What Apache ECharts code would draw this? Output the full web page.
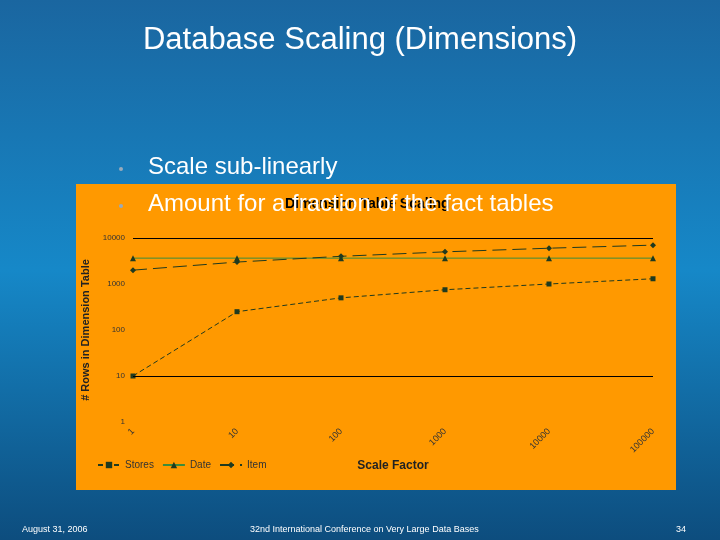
<!DOCTYPE html>
<html><head><meta charset="utf-8">
<script src="https://cdn.jsdelivr.net/npm/echarts@6/dist/echarts.min.js"></script>
<style>html,body{margin:0;padding:0}#c{width:720px;height:540px}</style>
</head><body><div id="c"></div>
<script>
const categories = ['1','10','100','1000','10000','100000'];
const stores = [10, 250, 500, 750, 1000, 1300];
const dateRows = [3650, 3650, 3650, 3650, 3650, 3650];
const item = [2000, 3000, 4000, 5000, 6000, 7000];
const chart = echarts.init(document.getElementById('c'));
const dark = '#1f3a1f';
const F = 'Liberation Sans';
chart.setOption({
  animation:false,
  textStyle:{fontFamily:F},
  graphic:[
    {type:'rect',z:-10,shape:{x:0,y:0,width:720,height:540},style:{fill:new echarts.graphic.LinearGradient(0,0,0,1,[{offset:0,color:'#1a66a0'},{offset:0.5,color:'#1688c8'},{offset:1,color:'#0d4d7e'}])}},
    {type:'rect',z:-5,shape:{x:76,y:184,width:600,height:306},style:{fill:'#ff9900'}},
    {type:'text',z:10,left:'center',top:25,style:{text:'Database Scaling (Dimensions)',fill:'#fff',fontSize:31,fontFamily:F}},
    {type:'text',z:10,left:148,top:155,style:{text:'Scale sub-linearly',fill:'#fff',fontSize:24,fontFamily:F}},
    {type:'text',z:10,left:148,top:192,style:{text:'Amount for a fraction of the fact tables',fill:'#fff',fontSize:24,fontFamily:F}},
    {type:'circle',z:10,shape:{cx:121,cy:169,r:2},style:{fill:'#9ab'}},
    {type:'circle',z:10,shape:{cx:121,cy:206,r:2},style:{fill:'#9ab'}},
    {type:'text',z:9,left:285,top:197,style:{text:'Dimension Table Scaling',fill:'#000',fontSize:14,fontWeight:'bold',fontFamily:F}},
    {type:'text',z:10,left:22,top:525,style:{text:'August 31, 2006',fill:'#fff',fontSize:9,fontFamily:F}},
    {type:'text',z:10,left:250,top:525,style:{text:'32nd International Conference on Very Large Data Bases',fill:'#fff',fontSize:9,fontFamily:F}},
    {type:'text',z:10,left:676,top:525,style:{text:'34',fill:'#fff',fontSize:9,fontFamily:F}}
  ],
  grid:{left:133,right:67,top:238,bottom:118},
  legend:{left:92,top:455,itemGap:8,itemWidth:22,itemHeight:8,textStyle:{fontSize:10,color:'#333',fontFamily:F},
    data:['Stores','Date','Item']},
  xAxis:{type:'category',data:categories,boundaryGap:false,name:'Scale Factor',nameLocation:'middle',nameGap:38,
    nameTextStyle:{fontWeight:'bold',fontSize:12,color:'#222'},
    axisLine:{show:false},axisTick:{show:false},axisLabel:{rotate:45,fontSize:9,color:'#333',margin:8}},
  yAxis:{type:'log',logBase:10,min:1,max:10000,name:'# Rows in Dimension Table',nameLocation:'middle',nameGap:40,
    nameTextStyle:{fontWeight:'bold',fontSize:11,color:'#222'},
    axisLine:{show:false},axisTick:{show:false},splitLine:{show:false},
    axisLabel:{fontSize:8,color:'#333',formatter:v=>String(Math.round(v))}},
  series:[
    {name:'Stores',type:'line',data:stores,symbol:'rect',symbolSize:5,itemStyle:{color:dark},lineStyle:{color:dark,width:1,type:[5,3]},
     markLine:{silent:true,symbol:'none',label:{show:false},lineStyle:{color:'#000',type:'solid',width:1},data:[{yAxis:10},{yAxis:10000}]}},
    {name:'Date',type:'line',data:dateRows,symbol:'triangle',symbolSize:6,itemStyle:{color:dark},lineStyle:{color:'#3c8c3c',width:1}},
    {name:'Item',type:'line',data:item,symbol:'diamond',symbolSize:6,itemStyle:{color:dark},lineStyle:{color:dark,width:1,type:[14,6]}}
  ]
});
</script></body></html>
